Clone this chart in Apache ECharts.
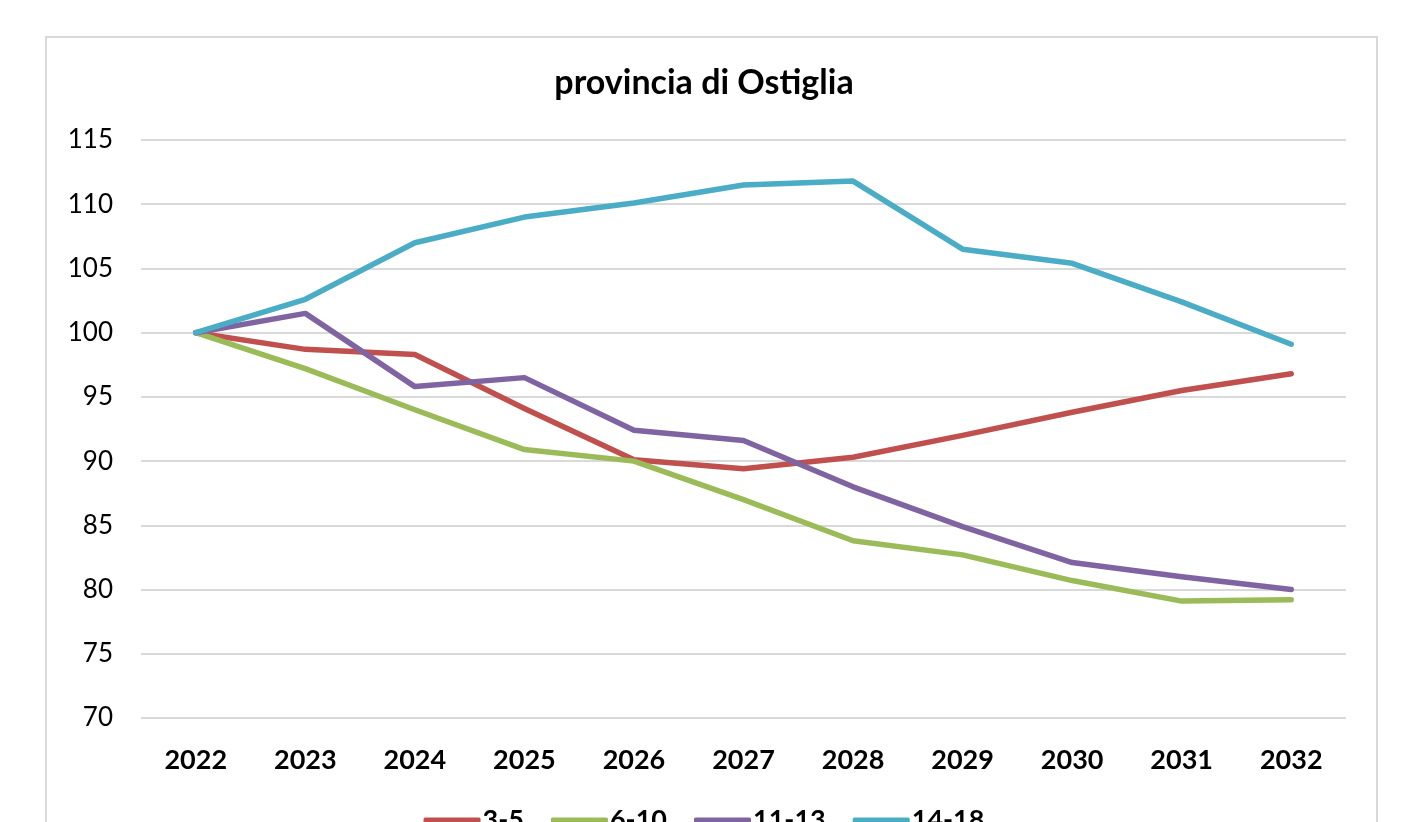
<!DOCTYPE html>
<html>
<head>
<meta charset="utf-8">
<script src="https://cdn.jsdelivr.net/npm/echarts@6/dist/echarts.min.js"></script>
<style>
  html, body { margin: 0; padding: 0; overflow: hidden; background: #fff; }
  #frame { position: absolute; left: 45px; top: 36px; width: 1329px; height: 900px; border: 2px solid #d9d9d9; }
  #chart { position: absolute; left: 0; top: 0; width: 1408px; height: 822px; }
</style>
</head>
<body>
<div id="frame"></div>
<div id="chart"></div>
<script>
var years = ['2022', '2023', '2024', '2025', '2026', '2027', '2028', '2029', '2030', '2031', '2032']
var s3_5 = [100, 98.7, 98.3, 94.1, 90.1, 89.4, 90.3, 92.0, 93.8, 95.5, 96.8]
var s6_10 = [100, 97.2, 94.0, 90.9, 90.0, 87.0, 83.8, 82.7, 80.7, 79.1, 79.2]
var s11_13 = [100, 101.5, 95.8, 96.5, 92.4, 91.6, 88.0, 84.9, 82.1, 81.0, 80.0]
var s14_18 = [100, 102.6, 107.0, 109.0, 110.1, 111.5, 111.8, 106.5, 105.4, 102.4, 99.1]

var font = 'Lato, "Open Sans", sans-serif'

function line(name, data, color) {
  return {
    name: name,
    type: 'line',
    data: data,
    symbol: 'none',
    lineStyle: { color: color, width: 5.5, cap: 'round', join: 'round' },
    itemStyle: { color: color },
    animation: false
  }
}

var chart = echarts.init(document.getElementById('chart'))
chart.setOption({
  title: {
    text: 'provincia di Ostiglia',
    left: 'center',
    top: 61,
    textStyle: { fontFamily: font, fontSize: 34, fontWeight: 'bold', color: '#000' }
  },
  grid: { left: 141, right: 62, top: 140, bottom: 104 },
  legend: {
    bottom: -17,
    left: 'center',
    icon: 'roundRect',
    itemWidth: 57,
    itemHeight: 6,
    itemGap: 27,
    textStyle: { fontFamily: font, fontSize: 27, fontWeight: 'bold', color: '#000', padding: [0, 0, 0, -3] },
    data: ['3-5', '6-10', '11-13', '14-18']
  },
  xAxis: {
    type: 'category',
    data: years,
    axisLine: { show: false },
    axisTick: { show: false },
    axisLabel: { fontFamily: font, fontSize: 27, fontWeight: 'bold', color: '#000', margin: 29 }
  },
  yAxis: {
    type: 'value',
    min: 70,
    max: 115,
    interval: 5,
    axisLine: { show: false },
    axisTick: { show: false },
    axisLabel: { fontFamily: font, fontSize: 26, color: '#000', margin: 28 },
    splitLine: { lineStyle: { color: '#d9d9d9', width: 2 } }
  },
  series: [
    line('3-5', s3_5, '#c0504d'),
    line('6-10', s6_10, '#9bbb59'),
    line('11-13', s11_13, '#8064a2'),
    line('14-18', s14_18, '#4bacc6')
  ]
})
</script>
</body>
</html>
